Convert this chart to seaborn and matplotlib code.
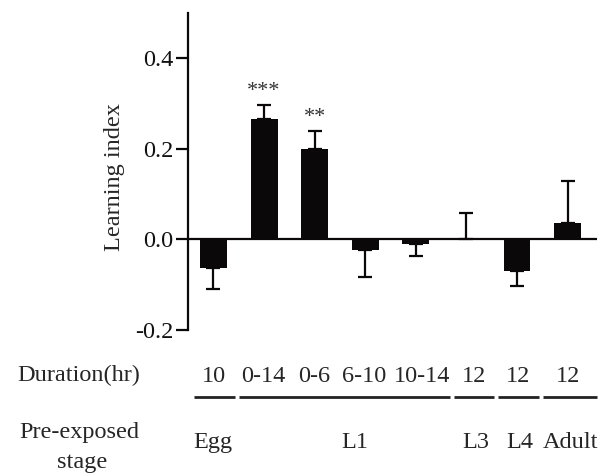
import numpy as np
import pandas as pd
import matplotlib
matplotlib.use("Agg")
import matplotlib.pyplot as plt
import matplotlib.transforms as mtransforms
import seaborn as sns

# ---- data ----
conditions = ["Egg 10", "L1 0-14", "L1 0-6", "L1 6-10", "L1 10-14", "L3 12", "L4 12", "Adult 12"]
learning_index = [-0.062, 0.266, 0.200, -0.023, -0.011, 0.0, -0.070, 0.037]
sem = [0.048, 0.030, 0.040, 0.059, 0.026, 0.059, 0.033, 0.093]
durations = ["10", "0-14", "0-6", "6-10", "10-14", "12", "12", "12"]
stages = ["Egg", "L1", "L3", "L4", "Adult"]
stage_groups = [[0], [1, 2, 3, 4], [5], [6], [7]]
significance = {1: "***", 2: "**"}
yticks = [-0.2, 0.0, 0.2, 0.4]

sns.set_theme(style="white")
plt.rcParams['font.family'] = ['Liberation Serif', 'DejaVu Serif']

FS = 17.5
fig = plt.figure(figsize=(5.98, 4.74), dpi=100)
ax = fig.add_axes([188/598, 1 - 330/474, (597 - 188)/598, (330 - 13)/474])

df = pd.DataFrame({"cond": conditions, "li": learning_index})
bar_color = "#0b0809"
sns.barplot(data=df, x="cond", y="li", ax=ax, color=bar_color, width=0.53,
            saturation=1, errorbar=None, edgecolor=bar_color, linewidth=0)

x = np.arange(len(conditions))
vals = np.array(learning_index)
errs = np.array(sem)
lower = np.where(vals < 0, errs, 0)
upper = np.where(vals >= 0, errs, 0)
ax.errorbar(x, vals, yerr=[lower, upper], fmt="none", ecolor=bar_color,
            elinewidth=1.6, capsize=4.7, capthick=1.6, zorder=3)

ax.axhline(0, color=bar_color, lw=1.6, zorder=4)

ax.set_xlim(-0.504, 7.58)
ax.set_ylim(-0.2, 0.5)
ax.set_yticks(yticks)
ax.set_yticklabels([f"{t:.1f}" for t in yticks])
ax.set_xticks([])
ax.set_xlabel("")
ax.set_ylabel("Learning index", fontsize=FS)
ax.yaxis.set_label_coords(-0.154, 0.481)
for s in ["top", "right", "bottom"]:
    ax.spines[s].set_visible(False)
ax.spines["left"].set_color(bar_color)
ax.spines["left"].set_linewidth(1.6)
ax.tick_params(axis="y", which="major", left=True, length=8.6, width=1.6,
               color=bar_color, labelsize=FS, pad=2, labelcolor="#111111")

# significance stars
for i, s in significance.items():
    ax.text(i, vals[i] + errs[i] + 0.03, s, ha="center", va="center",
            fontsize=16, color="#333333")

# bottom annotation rows
trans = mtransforms.blended_transform_factory(ax.transData, fig.transFigure)
y_dur = 1 - 381.5/474
y_line = 1 - 397/474
y_stage = 1 - 448/474

fig.text(79/598, y_dur, "Duration(hr)", ha="center", va="baseline", fontsize=FS)
dur_shift = [0.01, -0.02, 0.0, -0.02, 0.13, 0.15, 0.01, 0.0]
for i, d in enumerate(durations):
    ax.text(i + dur_shift[i], y_dur, d, transform=trans, ha="center",
            va="baseline", fontsize=FS)

bounds = [-0.42, 0.465, 4.71, 5.59, 6.48, 7.62]
gap = 0.04
for k in range(len(stage_groups)):
    ax.plot([bounds[k] + gap, bounds[k + 1] - gap], [y_line, y_line],
            transform=trans, color="#222222", lw=2.0, clip_on=False,
            solid_capstyle="butt")

stage_pos = [-0.405, 2.8, 4.91, 5.78, 6.51]
for name, p in zip(stages, stage_pos):
    ax.text(p, y_stage, name, transform=trans, ha="left" if name != "L1" else "center",
            va="baseline", fontsize=FS)

fig.text(79/598, 1 - 438/474, "Pre-exposed", ha="center", va="baseline", fontsize=FS)
fig.text(82/598, 1 - 468/474, "stage", ha="center", va="baseline", fontsize=FS)

fig.savefig("out.png", dpi=100)
